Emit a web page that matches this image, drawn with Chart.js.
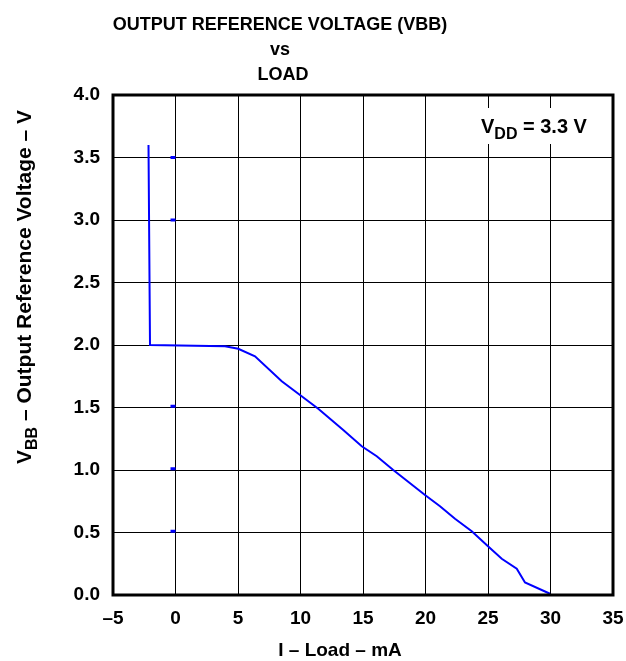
<!DOCTYPE html>
<html>
<head>
<meta charset="utf-8">
<script src="https://cdn.jsdelivr.net/npm/chart.js@4/dist/chart.umd.min.js"></script>
<style>
  body { margin: 0; padding: 0; background: #fff; }
  #wrap { width: 626px; height: 661px; }
</style>
</head>
<body>
<div id="wrap"><canvas id="myChart" width="626" height="661"></canvas></div>
<script>
// curve (mA, V)
const loadCurrent = [-2.16, -2.04, 3.96, 5.02, 6.36, 8.5, 9.96, 11.42, 13.42, 14.9, 16.1, 17.42, 19.96, 21.16, 22.36, 23.7, 25.0, 26.1, 27.3, 27.96, 29.96];
const vbbVoltage = [3.60, 2.00, 1.99, 1.97, 1.91, 1.71, 1.60, 1.49, 1.32, 1.19, 1.11, 1.00, 0.80, 0.71, 0.61, 0.51, 0.39, 0.29, 0.21, 0.10, 0.01];

// the little blue stubs sitting just left of x = 0
const stubLevels = [3.5, 3.0, 1.51, 1.01, 0.51];
const stubFrom = -0.4;
const stubTo = 0;

const xTickValues = [-5, 0, 5, 10, 15, 20, 25, 30, 35];
const yTickValues = [0, 0.5, 1.0, 1.5, 2.0, 2.5, 3.0, 3.5, 4.0];

const titleLines = ['OUTPUT REFERENCE VOLTAGE (VBB)', 'vs', 'LOAD'];

const FONT = '"Liberation Sans", Arial, Helvetica, sans-serif';

// build point lists for the library
const curvePoints = loadCurrent.map((x, i) => ({ x: x, y: vbbVoltage[i] }));
const stubPoints = [];
stubLevels.forEach(level => {
  stubPoints.push({ x: stubFrom, y: level });
  stubPoints.push({ x: stubTo, y: level });
  stubPoints.push({ x: (stubFrom + stubTo) / 2, y: null });
});

// draw text made of normal + subscript pieces, starting at x
function drawRich(ctx, parts, x, y, size) {
  parts.forEach(p => {
    const fs = p.sub ? Math.round(size * 0.78) : size;
    ctx.font = 'bold ' + fs + 'px ' + FONT;
    ctx.fillText(p.t, x, p.sub ? y + size * 0.3 : y);
    x += ctx.measureText(p.t).width;
  });
}
function richWidth(ctx, parts, size) {
  let w = 0;
  parts.forEach(p => {
    const fs = p.sub ? Math.round(size * 0.78) : size;
    ctx.font = 'bold ' + fs + 'px ' + FONT;
    w += ctx.measureText(p.t).width;
  });
  return w;
}

const labelsPlugin = {
  id: 'labels',
  afterDraw(chart) {
    const ctx = chart.ctx;
    const area = chart.chartArea;
    ctx.save();

    ctx.fillStyle = '#000';
    ctx.textBaseline = 'alphabetic';

    // title
    ctx.textAlign = 'center';
    ctx.font = 'bold 18px ' + FONT;
    ctx.fillText(titleLines[0], 280, 30);
    ctx.fillText(titleLines[1], 280, 55);
    ctx.fillText(titleLines[2], 283, 80);

    // x axis title
    ctx.font = 'bold 19px ' + FONT;
    ctx.fillText('I \u2013 Load \u2013 mA', 340, 656);

    // y axis title, rotated
    ctx.textAlign = 'left';
    const yParts = [{ t: 'V' }, { t: 'BB', sub: true }, { t: ' \u2013 Output Reference Voltage \u2013 V' }];
    const yw = richWidth(ctx, yParts, 21);
    ctx.save();
    ctx.translate(31, 287);
    ctx.rotate(-Math.PI / 2);
    drawRich(ctx, yParts, -yw / 2, 0, 21);
    ctx.restore();

    // VDD note with a white box behind it
    ctx.fillStyle = '#fff';
    ctx.fillRect(474, 108, 130, 36);
    ctx.fillStyle = '#000';
    drawRich(ctx, [{ t: 'V' }, { t: 'DD', sub: true }, { t: ' = 3.3 V' }], 481, 133, 20);

    // frame round the plot
    ctx.strokeStyle = '#000';
    ctx.lineWidth = 3;
    ctx.strokeRect(area.left, area.top, area.right - area.left, area.bottom - area.top);

    ctx.restore();
  }
};

window.onload = function() {
  const ctx = document.getElementById('myChart').getContext('2d');
  const vbbChart = new Chart(ctx, {
    type: 'scatter',
    data: {
      datasets: [{
        label: 'VBB',
        data: curvePoints,
        showLine: true,
        borderColor: '#0000ff',
        borderWidth: 2,
        pointRadius: 0,
        tension: 0
      }, {
        label: 'stubs',
        data: stubPoints,
        showLine: true,
        spanGaps: false,
        borderColor: '#0000ff',
        borderWidth: 3,
        pointRadius: 0
      }]
    },
    plugins: [labelsPlugin],
    options: {
      responsive: false,
      animation: false,
      layout: { padding: { left: 0, right: 13, top: 95, bottom: 0 } },
      plugins: {
        legend: { display: false },
        tooltip: { enabled: false }
      },
      scales: {
        x: {
          type: 'linear',
          min: -5,
          max: 35,
          afterBuildTicks: scale => { scale.ticks = xTickValues.map(v => ({ value: v })); },
          afterFit: scale => {
            scale.height = 66;
            scale.paddingLeft = 0;
            scale.paddingRight = 0;
          },
          ticks: {
            padding: 12,
            color: '#000',
            font: { family: FONT, size: 19, weight: 'bold' },
            callback: v => v < 0 ? '\u2013' + Math.abs(v) : String(v)
          },
          grid: { color: '#000', lineWidth: 1, drawTicks: false },
          border: { display: false }
        },
        y: {
          type: 'linear',
          min: 0,
          max: 4,
          afterBuildTicks: scale => { scale.ticks = yTickValues.map(v => ({ value: v })); },
          afterFit: scale => {
            scale.width = 113;
            scale.paddingTop = 0;
            scale.paddingBottom = 0;
          },
          ticks: {
            padding: 13,
            color: '#000',
            font: { family: FONT, size: 19, weight: 'bold' },
            callback: v => Number(v).toFixed(1)
          },
          grid: { color: '#000', lineWidth: 1, drawTicks: false },
          border: { display: false }
        }
      }
    }
  });
};
</script>
</body>
</html>
